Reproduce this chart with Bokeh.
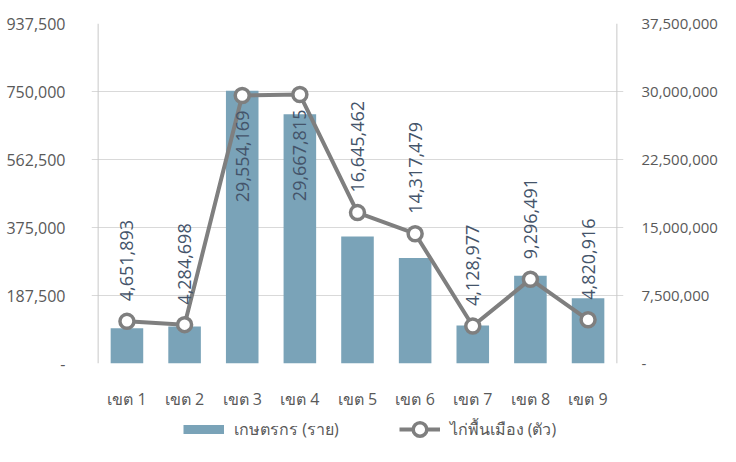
import numpy as np
from bokeh.plotting import figure
from bokeh.layouts import column
from bokeh.models import (ColumnDataSource, Range1d, LinearAxis, FixedTicker,
                          NumeralTickFormatter, Span, Legend, LegendItem)
from bokeh.core.properties import value
from bokeh.embed import file_html
from bokeh.resources import INLINE

# ---- data ----
categories = ["เขต 1", "เขต 2", "เขต 3", "เขต 4", "เขต 5", "เขต 6", "เขต 7", "เขต 8", "เขต 9"]
farmers = [97000, 102000, 752000, 687000, 350000, 291000, 105000, 242000, 180000]
chickens = [4651893, 4284698, 29554169, 29667815, 16645462, 14317479, 4128977, 9296491, 4820916]
left_ticks = [0, 187500, 375000, 562500, 750000, 937500]
right_ticks = [0, 7500000, 15000000, 22500000, 30000000, 37500000]
series_names = ["เกษตรกร (ราย)", "ไก่พื้นเมือง (ตัว)"]

# ---- style ----
FONT = "Open Sans"
BAR = "#7aa3b8"
LINE = "#7f7f7f"
LABEL = "#44546a"
TICK = "#595959"
GRID = "#d9d9d9"
BORDER_L, BORDER_R = 91, 89

xs = list(range(1, len(categories) + 1))
label_align = ["left", "left", "right", "right", "left", "left", "left", "left", "left"]
label_off = [-20 if a == "left" else 15 for a in label_align]

src = ColumnDataSource(dict(
    x=xs, farmers=farmers, chickens=chickens,
    labels=[f"{v:,}" for v in chickens],
    align=label_align, yoff=label_off,
))

p = figure(width=720, height=412, output_backend="svg", toolbar_location=None,
           x_range=Range1d(0.385, len(categories) + 0.615),
           y_range=Range1d(left_ticks[0], left_ticks[-1]),
           min_border_left=BORDER_L, min_border_right=BORDER_R,
           min_border_top=23, min_border_bottom=41)
p.outline_line_color = None
p.background_fill_color = "white"
p.border_fill_color = "white"
p.extra_y_ranges = {"right": Range1d(right_ticks[0], right_ticks[-1])}

p.xgrid.visible = False
p.ygrid.ticker = FixedTicker(ticks=left_ticks)
p.ygrid.grid_line_color = GRID
p.ygrid.grid_line_width = 1

def style_axis(ax, standoff, size="16px"):
    ax.axis_line_color = None
    ax.major_tick_line_color = None
    ax.minor_tick_line_color = None
    ax.major_label_text_font = FONT
    ax.major_label_text_font_size = size
    ax.major_label_text_color = TICK
    ax.major_label_standoff = standoff

xa = p.xaxis[0]
xa.ticker = FixedTicker(ticks=xs)
xa.major_label_overrides = {x: c for x, c in zip(xs, categories)}
style_axis(xa, 18)

ya = p.yaxis[0]
ya.ticker = FixedTicker(ticks=left_ticks)
ya.formatter = NumeralTickFormatter(format="0,0")
ya.major_label_overrides = {0: "-"}
style_axis(ya, 20)

yr = LinearAxis(y_range_name="right", ticker=FixedTicker(ticks=right_ticks),
                formatter=NumeralTickFormatter(format="0,0"))
yr.major_label_overrides = {0: "-"}
style_axis(yr, 12, "15px")
p.add_layout(yr, "right")

for loc in (0.5, len(categories) + 0.5):
    p.add_layout(Span(location=loc, dimension="height", line_color="#c8c8c8", line_width=1))

p.vbar(x="x", top="farmers", width=0.565, source=src, fill_color=BAR, line_color=None)
p.line(x="x", y="chickens", source=src, y_range_name="right", line_color=LINE, line_width=4)
p.scatter(x="x", y="chickens", source=src, y_range_name="right", size=14,
          fill_color="white", line_color=LINE, line_width=3.5)
p.text(x="x", y="chickens", text="labels", source=src, y_range_name="right",
       angle=np.pi / 2, text_align="align", text_baseline="middle", y_offset="yoff",
       text_font=value(FONT), text_font_size="18px", text_color=LABEL)

# ---- legend strip (same frame borders as the chart) ----
lg = figure(width=720, height=34, output_backend="svg", toolbar_location=None,
            x_range=Range1d(0, 1), y_range=Range1d(0, 1),
            min_border_left=BORDER_L, min_border_right=BORDER_R,
            min_border_top=0, min_border_bottom=0)
lg.outline_line_color = None
lg.axis.visible = False
lg.grid.visible = False
hidden = dict(x=[-1, -2], y=[-1, -2])
r_sw = lg.line(x=hidden["x"], y=hidden["y"], line_color=BAR, line_width=9)
r_ln = lg.line(x=hidden["x"], y=hidden["y"], line_color=LINE, line_width=4)
r_pt = lg.scatter(x=hidden["x"], y=hidden["y"], size=14, fill_color="white",
                  line_color=LINE, line_width=3.5)
legend = Legend(items=[LegendItem(label=series_names[0], renderers=[r_sw]),
                       LegendItem(label=series_names[1], renderers=[r_ln, r_pt])],
                orientation="horizontal", location=(183 - BORDER_L, 0),
                glyph_width=41, glyph_height=34,
                label_standoff=10, spacing=60, padding=0, margin=0,
                border_line_color=None, background_fill_alpha=0,
                label_text_font=FONT, label_text_font_size="16px", label_text_color=TICK)
lg.add_layout(legend)

open("out.html", "w").write(file_html(column(p, lg, spacing=0), INLINE))
